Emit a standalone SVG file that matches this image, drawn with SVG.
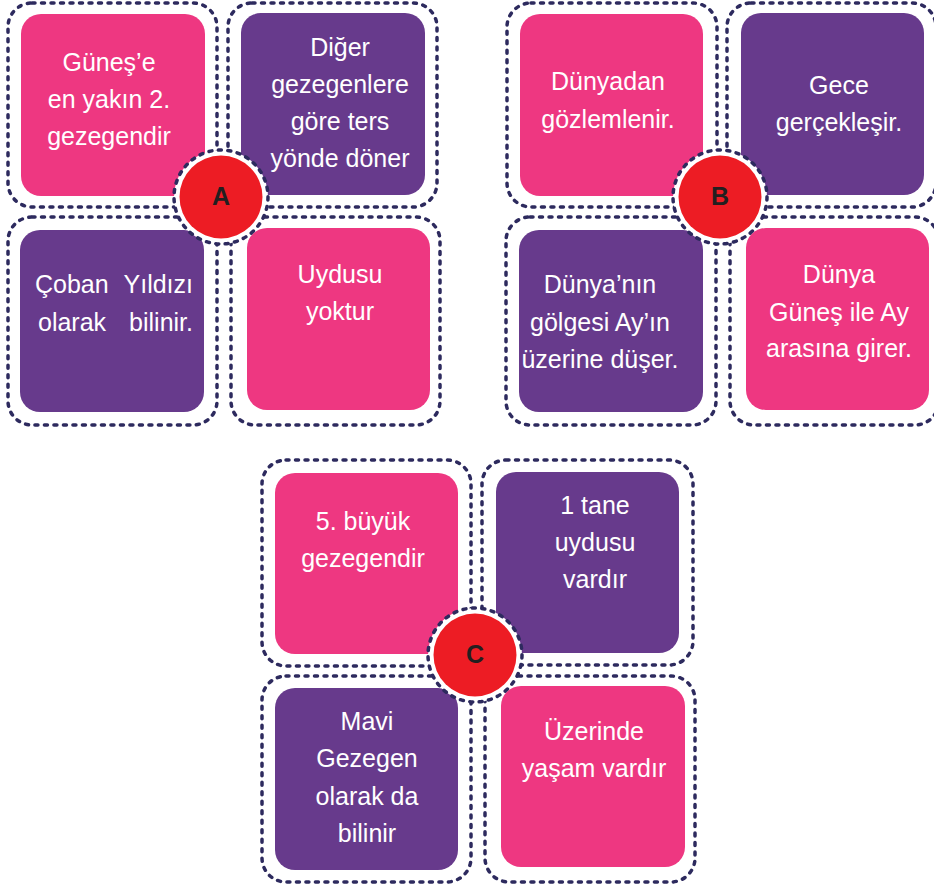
<svg xmlns="http://www.w3.org/2000/svg" width="934" height="884" viewBox="0 0 934 884">
<style>
.out{fill:none;stroke:#2d2a5e;stroke-width:3.5;stroke-dasharray:3 6.5;stroke-linecap:round}
.pk{fill:#ee3781}
.pu{fill:#673a8c}
.t{font-family:"Liberation Sans",Arial,sans-serif;font-size:25px;fill:#ffffff;text-anchor:middle}
.ring{fill:#ffffff;stroke:#2d2a5e;stroke-width:3.5;stroke-dasharray:3 6.5;stroke-linecap:round}
.red{fill:#ed1c24}
.lb{font-family:"Liberation Sans",Arial,sans-serif;font-size:25px;font-weight:bold;fill:#231f20;text-anchor:middle}
</style>
<rect width="934" height="884" fill="#ffffff"/>

<!-- Group A -->
<g id="A-tl">
<rect class="out" x="8" y="3" width="209" height="204" rx="24"/>
<rect class="pk" x="21" y="14" width="184" height="182" rx="20"/>
<text class="t" x="109" y="71">Güneş’e</text>
<text class="t" x="109" y="108">en yakın 2.</text>
<text class="t" x="109" y="145">gezegendir</text>
</g>
<g id="A-tr">
<rect class="out" x="228" y="3" width="209" height="204" rx="24"/>
<rect class="pu" x="241" y="13" width="184" height="182" rx="20"/>
<text class="t" x="340" y="56">Diğer</text>
<text class="t" x="340" y="93">gezegenlere</text>
<text class="t" x="340" y="130">göre ters</text>
<text class="t" x="340" y="167">yönde döner</text>
</g>
<g id="A-bl">
<rect class="out" x="8" y="217" width="209" height="208" rx="24"/>
<rect class="pu" x="20" y="230" width="184" height="182" rx="20"/>
<text class="t" style="text-anchor:start" x="35" y="293">Çoban</text>
<text class="t" style="text-anchor:end" x="193" y="293">Yıldızı</text>
<text class="t" style="text-anchor:start" x="38" y="331">olarak</text>
<text class="t" style="text-anchor:end" x="193" y="331">bilinir.</text>
</g>
<g id="A-br">
<rect class="out" x="231" y="217" width="209" height="208" rx="24"/>
<rect class="pk" x="247" y="228" width="183" height="182" rx="20"/>
<text class="t" x="340" y="283">Uydusu</text>
<text class="t" x="340" y="320">yoktur</text>
</g>
<g id="A-center">
<circle class="ring" cx="221" cy="197" r="47"/>
<circle class="red" cx="221" cy="197" r="41.5"/>
<text class="lb" x="221" y="205">A</text>
</g>

<!-- Group B -->
<g id="B-tl">
<rect class="out" x="507" y="3" width="210" height="204" rx="24"/>
<rect class="pk" x="520" y="14" width="183" height="182" rx="20"/>
<text class="t" x="608" y="90">Dünyadan</text>
<text class="t" x="608" y="128">gözlemlenir.</text>
</g>
<g id="B-tr">
<rect class="out" x="727" y="3" width="209" height="204" rx="24"/>
<rect class="pu" x="741" y="13" width="183" height="182" rx="20"/>
<text class="t" x="839" y="94">Gece</text>
<text class="t" x="839" y="131">gerçekleşir.</text>
</g>
<g id="B-bl">
<rect class="out" x="506" y="217" width="210" height="208" rx="24"/>
<rect class="pu" x="519" y="230" width="184" height="182" rx="20"/>
<text class="t" x="600" y="293">Dünya’nın</text>
<text class="t" x="600" y="331">gölgesi Ay’ın</text>
<text class="t" x="600" y="368">üzerine düşer.</text>
</g>
<g id="B-br">
<rect class="out" x="730" y="217" width="209" height="208" rx="24"/>
<rect class="pk" x="746" y="228" width="183" height="182" rx="20"/>
<text class="t" x="839" y="283">Dünya</text>
<text class="t" x="839" y="321">Güneş ile Ay</text>
<text class="t" x="839" y="357">arasına girer.</text>
</g>
<g id="B-center">
<circle class="ring" cx="720" cy="197" r="47"/>
<circle class="red" cx="720" cy="197" r="41.5"/>
<text class="lb" x="720" y="205">B</text>
</g>

<!-- Group C -->
<g id="C-tl">
<rect class="out" x="262" y="460" width="209" height="206" rx="24"/>
<rect class="pk" x="275" y="473" width="183" height="181" rx="20"/>
<text class="t" x="363" y="530">5. büyük</text>
<text class="t" x="363" y="567">gezegendir</text>
</g>
<g id="C-tr">
<rect class="out" x="482" y="460" width="211" height="205" rx="24"/>
<rect class="pu" x="496" y="472" width="183" height="181" rx="20"/>
<text class="t" x="595" y="514">1 tane</text>
<text class="t" x="595" y="551">uydusu</text>
<text class="t" x="595" y="588">vardır</text>
</g>
<g id="C-bl">
<rect class="out" x="262" y="676" width="209" height="206" rx="24"/>
<rect class="pu" x="275" y="688" width="183" height="182" rx="20"/>
<text class="t" x="367" y="730">Mavi</text>
<text class="t" x="367" y="767">Gezegen</text>
<text class="t" x="367" y="805">olarak da</text>
<text class="t" x="367" y="842">bilinir</text>
</g>
<g id="C-br">
<rect class="out" x="485" y="676" width="210" height="206" rx="24"/>
<rect class="pk" x="501" y="686" width="184" height="181" rx="20"/>
<text class="t" x="594" y="740">Üzerinde</text>
<text class="t" x="594" y="777">yaşam vardır</text>
</g>
<g id="C-center">
<circle class="ring" cx="475" cy="655" r="47"/>
<circle class="red" cx="475" cy="655" r="41.5"/>
<text class="lb" x="475" y="663">C</text>
</g>
</svg>
